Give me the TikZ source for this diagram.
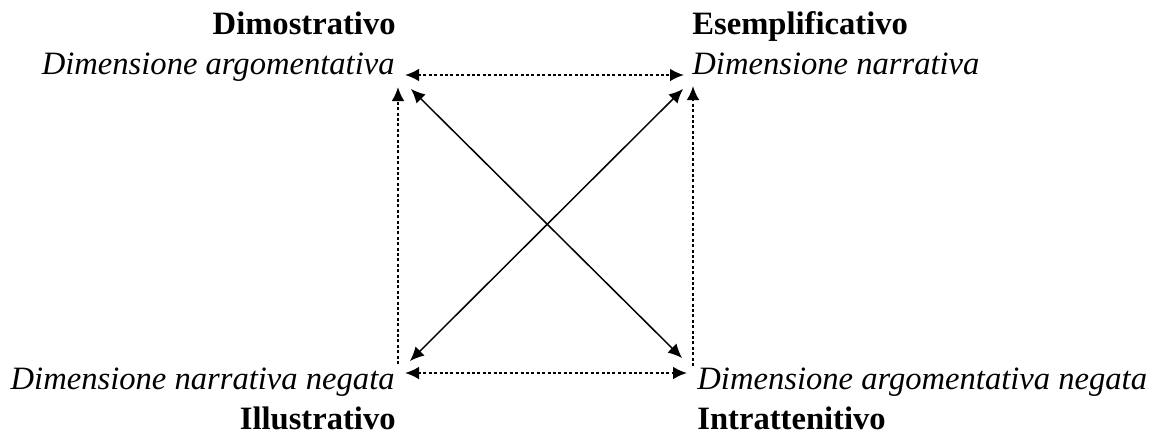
\documentclass[tikz,border=0pt]{standalone}
\usepackage{fontspec}
\setmainfont{Liberation Serif}
\usetikzlibrary{arrows.meta}
\begin{document}
\begin{tikzpicture}[x=0.5pt,y=-0.5pt,
  >={Latex[length=7pt,width=6.4pt]},
  lbl/.style={inner sep=0pt,font=\fontsize{16.3}{19}\selectfont},
  ttl/.style={lbl,font=\fontsize{16.3}{19}\selectfont\bfseries},
  dim/.style={lbl,font=\fontsize{16.3}{19}\selectfont\itshape},
  dotline/.style={line width=1.1pt,dash pattern=on 1.5pt off 1.2pt},
  solidline/.style={line width=0.75pt}]
\useasboundingbox (0,0) rectangle (1154,435);
% texts
\node[ttl,anchor=base east] (dimo) at (396,34) {Dimostrativo};
\node[dim,anchor=base east] (da) at (395,74) {Dimensione argomentativa};
\node[ttl,anchor=base west] (esem) at (692,34) {Esemplificativo};
\node[dim,anchor=base west] (dn) at (692,74) {Dimensione narrativa};
\node[dim,anchor=base east] (dnn) at (395,389) {Dimensione narrativa negata};
\node[ttl,anchor=base east] (ill) at (396,429) {Illustrativo};
\node[dim,anchor=base west] (dan) at (697,389) {Dimensione argomentativa negata};
\node[ttl,anchor=base west] (intr) at (697,429) {Intrattenitivo};
% arrow end points
\coordinate (tlh) at (405,75);
\coordinate (trh) at (684,75);
\coordinate (blh) at (405,373);
\coordinate (brh) at (687,373);
\coordinate (tlv) at (398,87);
\coordinate (blv) at (398,364);
\coordinate (trv) at (693,86);
\coordinate (brv) at (693,366);
\coordinate (tld) at (411,89);
\coordinate (brd) at (682,358);
\coordinate (trd) at (683,89);
\coordinate (bld) at (410,361);
% connectors
\draw[dotline,<->] (tlh) -- (trh);
\draw[dotline,<->] (blh) -- (brh);
\draw[dotline,->] (blv) -- (tlv);
\draw[dotline,->] (brv) -- (trv);
\draw[solidline,<->] (tld) -- (brd);
\draw[solidline,<->] (bld) -- (trd);
\end{tikzpicture}
\end{document}
